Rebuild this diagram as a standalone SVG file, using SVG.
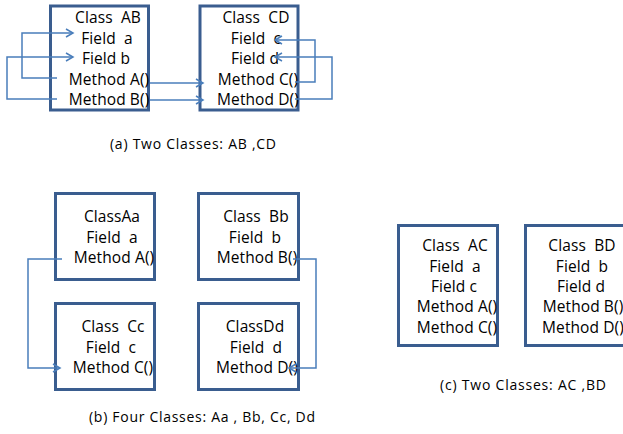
<svg xmlns="http://www.w3.org/2000/svg" width="623" height="434" viewBox="0 0 623 434">
<style>
.box{fill:#fff;stroke:#3a5d8f;stroke-width:3}
.t{font-family:"Open Sans","Liberation Sans",sans-serif;font-size:15.5px;fill:#000;text-anchor:middle;white-space:pre;letter-spacing:0.1px}
.cap{font-family:"Open Sans","Liberation Sans",sans-serif;font-size:14px;fill:#000;text-anchor:middle;white-space:pre}
.c{fill:none;stroke:#4a7ebb;stroke-width:1.5;marker-end:url(#ah)}
</style>
<defs>
<marker id="ah" markerUnits="userSpaceOnUse" markerWidth="12" markerHeight="12" refX="8" refY="5" orient="auto">
<path d="M1,1 L8,5 L1,9" fill="none" stroke="#4a7ebb" stroke-width="1.5"/>
</marker>
</defs>
<rect width="623" height="434" fill="#fff"/>
<g id="classAB">
<rect class="box" x="50.5" y="6" width="98" height="104"/>
<text class="t" x="108" y="23" xml:space="preserve">Class  AB</text>
<text class="t" x="107" y="44" xml:space="preserve">Field  a</text>
<text class="t" x="106" y="64">Field b</text>
<text class="t" x="109" y="85">Method A()</text>
<text class="t" x="109" y="105">Method B()</text>
</g>
<g id="classCD">
<rect class="box" x="200" y="6" width="98" height="104"/>
<text class="t" x="256" y="23" xml:space="preserve">Class  CD</text>
<text class="t" x="256" y="44" xml:space="preserve">Field  c</text>
<text class="t" x="255" y="64">Field d</text>
<text class="t" x="258" y="85">Method C()</text>
<text class="t" x="258" y="105">Method D()</text>
</g>
<text class="cap" x="193" y="149" textLength="166" lengthAdjust="spacing">(a) Two Classes: AB ,CD</text>
<g id="classAa">
<rect class="box" x="55.5" y="193.5" width="99" height="86"/>
<text class="t" x="112" y="222">ClassAa</text>
<text class="t" x="112" y="243" xml:space="preserve">Field  a</text>
<text class="t" x="114" y="263">Method A()</text>
</g>
<g id="classBb">
<rect class="box" x="198.5" y="193.5" width="100" height="86"/>
<text class="t" x="256" y="222" xml:space="preserve">Class  Bb</text>
<text class="t" x="255" y="243" xml:space="preserve">Field  b</text>
<text class="t" x="257" y="263">Method B()</text>
</g>
<g id="classCc">
<rect class="box" x="55.5" y="303.5" width="99" height="86"/>
<text class="t" x="113" y="332" xml:space="preserve">Class  Cc</text>
<text class="t" x="111" y="353" xml:space="preserve">Field  c</text>
<text class="t" x="113" y="373">Method C()</text>
</g>
<g id="classDd">
<rect class="box" x="198.5" y="303.5" width="100" height="86"/>
<text class="t" x="255" y="332">ClassDd</text>
<text class="t" x="256" y="353" xml:space="preserve">Field  d</text>
<text class="t" x="257" y="373">Method D()</text>
</g>
<text class="cap" x="202" y="422" textLength="226" lengthAdjust="spacing">(b) Four Classes: Aa , Bb, Cc, Dd</text>
<g id="classAC">
<rect class="box" x="398.5" y="225.5" width="99" height="120"/>
<text class="t" x="455" y="251" xml:space="preserve">Class  AC</text>
<text class="t" x="455" y="272" xml:space="preserve">Field  a</text>
<text class="t" x="454" y="292">Field c</text>
<text class="t" x="457" y="312">Method A()</text>
<text class="t" x="457" y="333">Method C()</text>
</g>
<g id="classBD">
<rect class="box" x="525.5" y="225.5" width="101" height="120"/>
<text class="t" x="582" y="251" xml:space="preserve">Class  BD</text>
<text class="t" x="582" y="272" xml:space="preserve">Field  b</text>
<text class="t" x="581" y="292">Field d</text>
<text class="t" x="583" y="312">Method B()</text>
<text class="t" x="583" y="333">Method D()</text>
</g>
<text class="cap" x="523" y="390" textLength="166" lengthAdjust="spacing">(c) Two Classes: AC ,BD</text>
<g id="connectors">
<path class="c" d="M57,78 H22 V33 H73"/>
<path class="c" d="M57,99 H7 V57 H73"/>
<path class="c" d="M150,83 H203"/>
<path class="c" d="M150,100 H203"/>
<path class="c" d="M295,82 H315 V40 H275"/>
<path class="c" d="M295,99 H332 V57 H275"/>
<path class="c" d="M62,259 H28 V368 H60"/>
<path class="c" d="M293,259 H316 V368 H289"/>
</g>
</svg>
